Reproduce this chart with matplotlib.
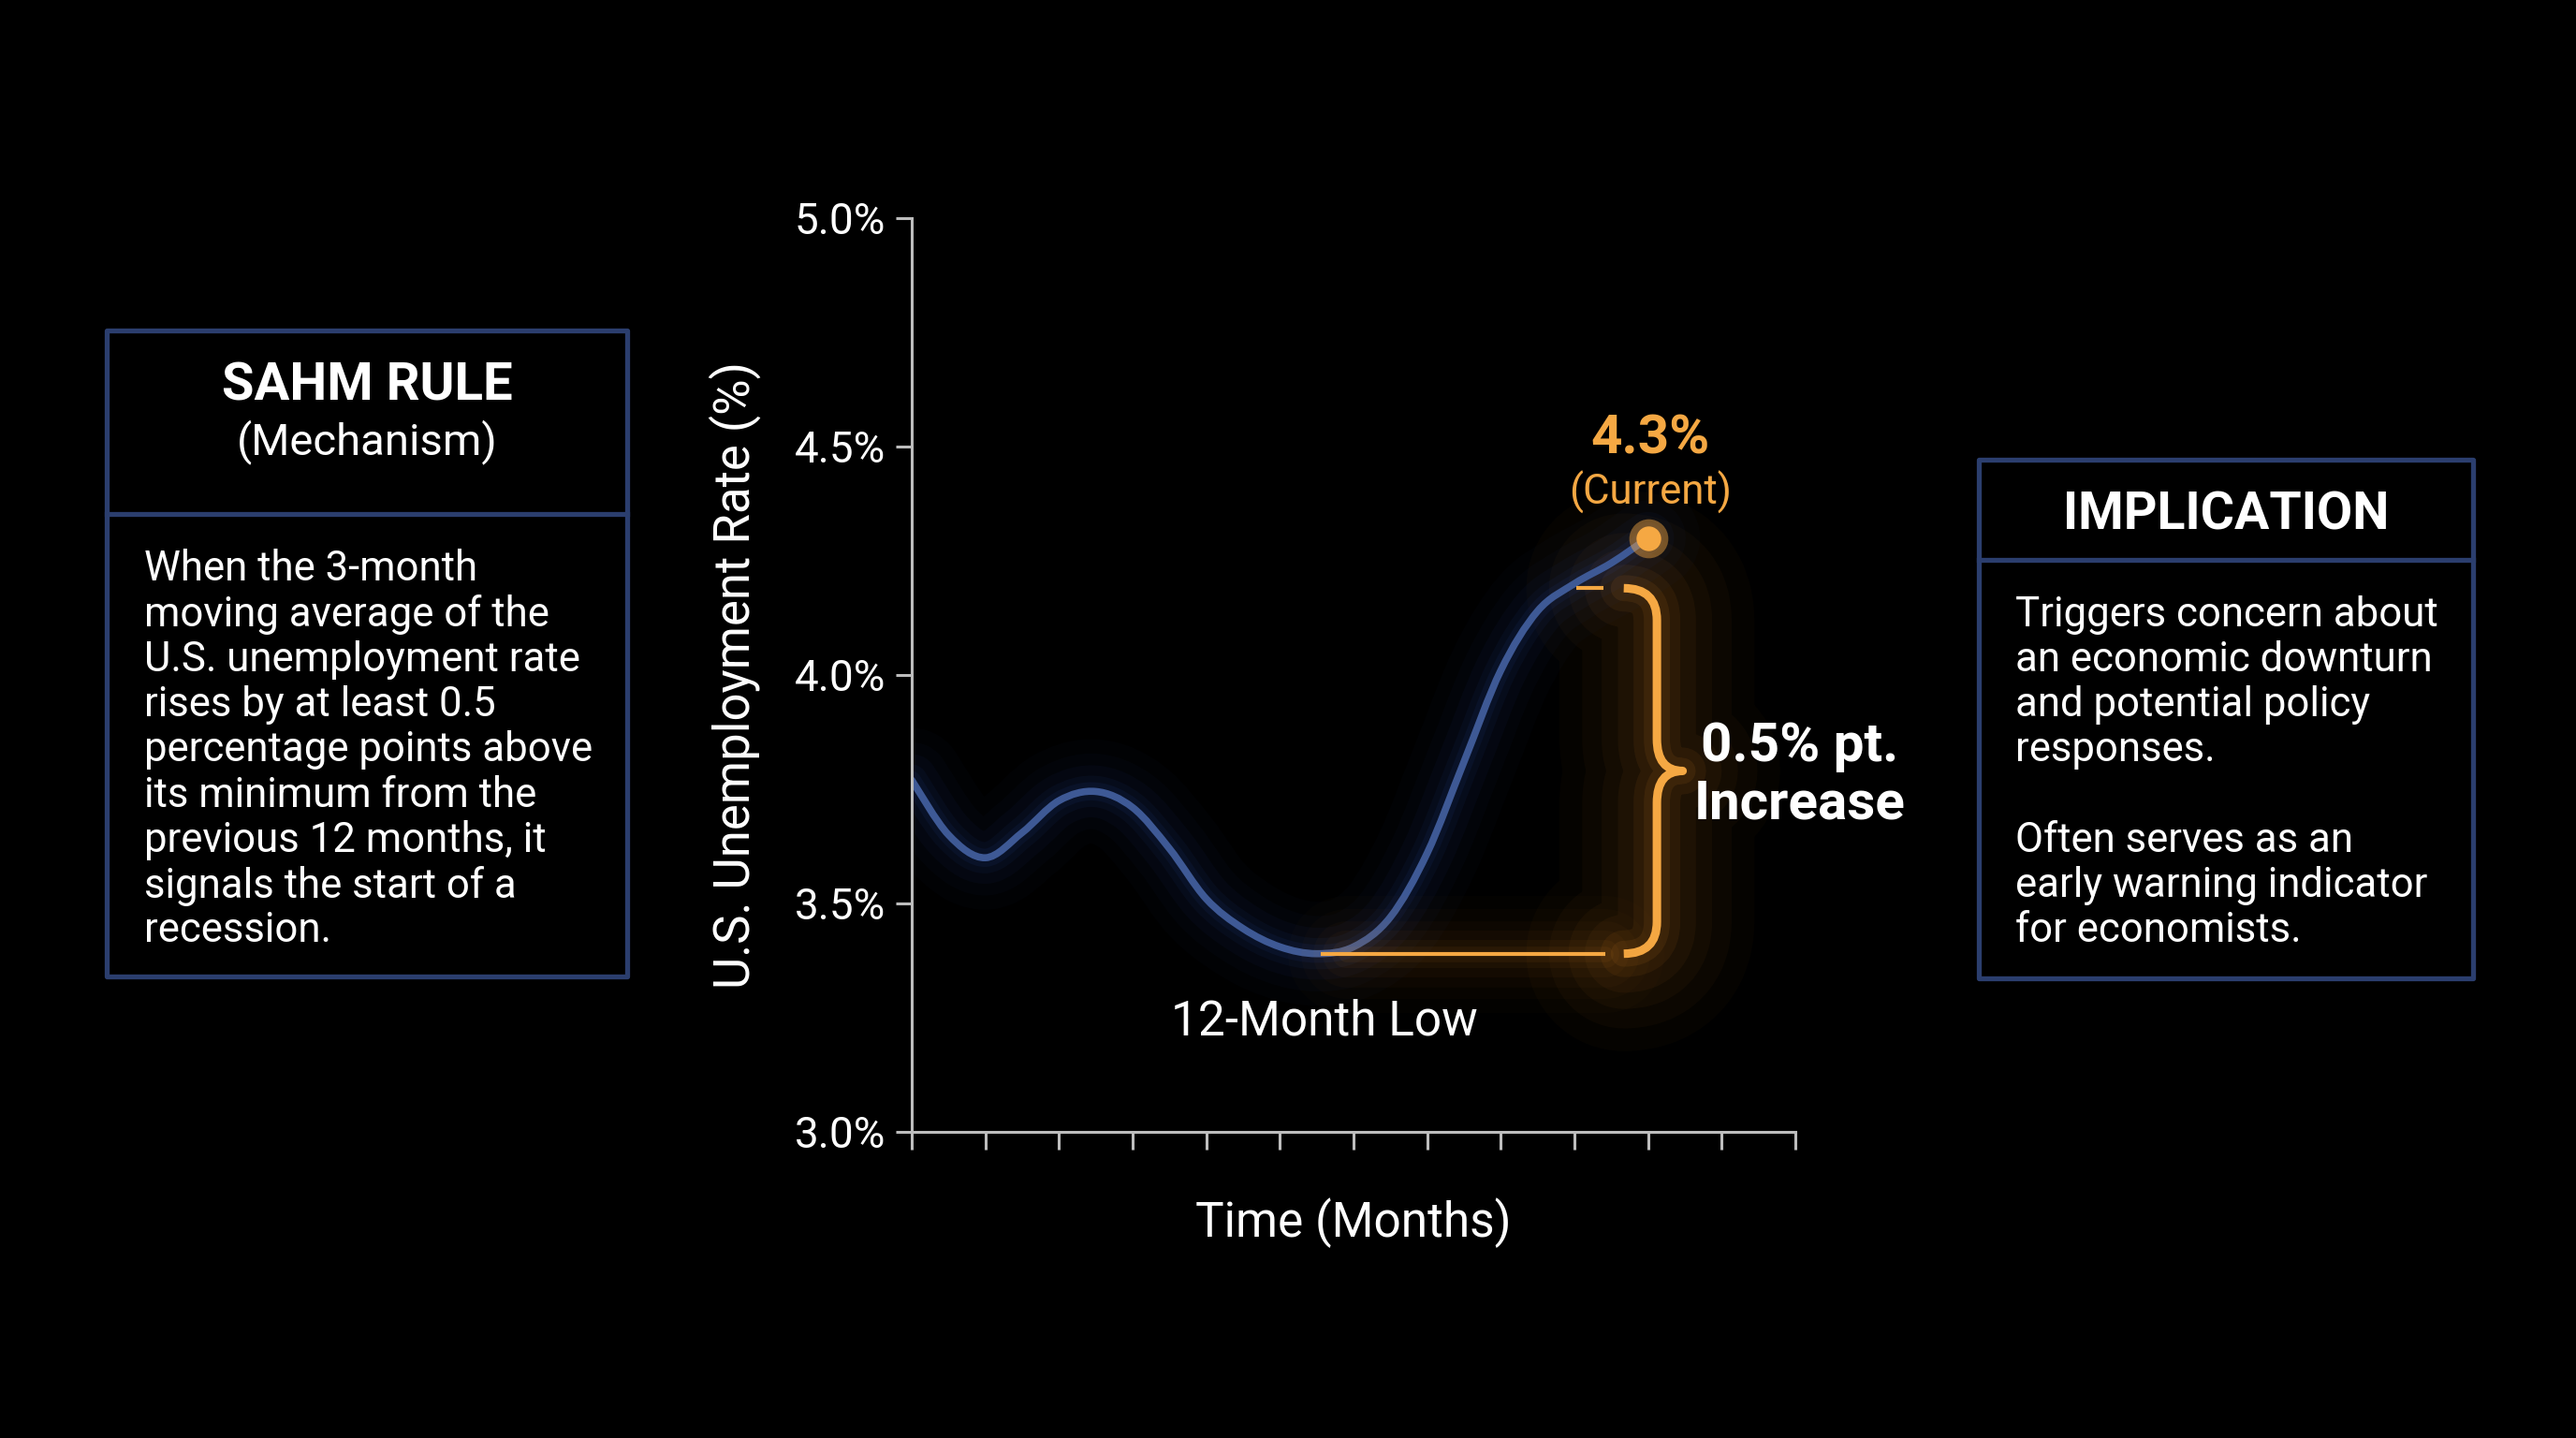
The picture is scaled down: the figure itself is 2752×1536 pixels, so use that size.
import matplotlib.pyplot as plt
from matplotlib.patches import Rectangle, PathPatch
from matplotlib.path import Path
from matplotlib.lines import Line2D

plt.rcParams['font.family'] = ['Roboto', 'DejaVu Sans']

# unemployment rate, every half month
months = [0, 0.5, 1, 1.5, 2, 2.5, 3, 3.5, 4, 4.5, 5, 5.5, 6, 6.5, 7, 7.5, 8, 8.5, 9, 9.5, 10]
rate = [3.77, 3.65, 3.60, 3.655, 3.725, 3.745, 3.71, 3.62, 3.51, 3.445, 3.405, 3.39,
        3.405, 3.47, 3.61, 3.81, 4.01, 4.14, 4.20, 4.245, 4.30]
yticks = [3.0, 3.5, 4.0, 4.5, 5.0]
ytick_labels = ['3.0%', '3.5%', '4.0%', '4.5%', '5.0%']
xticks = list(range(13))
brace_top = 4.19
current_label = '4.3%'

left_title = 'SAHM RULE'
left_sub = '(Mechanism)'
left_body = ['When the 3-month', 'moving average of the', 'U.S. unemployment rate',
             'rises by at least 0.5', 'percentage points above', 'its minimum from the',
             'previous 12 months, it', 'signals the start of a', 'recession.']
right_title = 'IMPLICATION'
right_body = ['Triggers concern about', 'an economic downturn', 'and potential policy',
              'responses.', '', 'Often serves as an', 'early warning indicator',
              'for economists.']

BLUE = '#3e5995'
ORANGE = '#f5a843'
BOX = '#2b3e6e'
AXC = '#bdbdbd'
W, H = 2752, 1536


def fx(px):
    return px / W


def fy(px):
    return 1 - px / H


def smooth_path(xs, ys):
    # bezier path through the points (catmull-rom handles)
    pts = list(zip(xs, ys))
    verts = [pts[0]]
    codes = [Path.MOVETO]
    n = len(pts)
    for i in range(n - 1):
        p0 = pts[max(i - 1, 0)]
        p1 = pts[i]
        p2 = pts[i + 1]
        p3 = pts[min(i + 2, n - 1)]
        c1 = (p1[0] + (p2[0] - p0[0]) / 6, p1[1] + (p2[1] - p0[1]) / 6)
        c2 = (p2[0] - (p3[0] - p1[0]) / 6, p2[1] - (p3[1] - p1[1]) / 6)
        verts += [c1, c2, p2]
        codes += [Path.CURVE4] * 3
    return Path(verts, codes)


fig = plt.figure(figsize=(W / 100, H / 100), dpi=100, facecolor='black')
ax = fig.add_axes([fx(974), fy(1209), fx(1918) - fx(974), fy(233) - fy(1209)])
ax.set_facecolor('black')

curve = smooth_path(months, rate)

low = min(rate)
i_low = rate.index(low)
x_low = months[i_low]
x_end, y_end = months[-1], rate[-1]

# brace geometry (months / percent)
x_hook, x_spine, x_tip = 9.67, 10.12, 10.47
y_mid = (low + brace_top) / 2
r = 0.07
verts = [(x_hook, brace_top), (x_spine, brace_top), (x_spine, brace_top - r),
         (x_spine, y_mid + r), (x_spine, y_mid), (x_tip, y_mid),
         (x_spine, y_mid), (x_spine, y_mid - r),
         (x_spine, low + r), (x_spine, low), (x_hook, low)]
codes = [Path.MOVETO, Path.CURVE3, Path.CURVE3, Path.LINETO, Path.CURVE3, Path.CURVE3,
         Path.CURVE3, Path.CURVE3, Path.LINETO, Path.CURVE3, Path.CURVE3]
brace = Path(verts, codes)

# orange haze behind the brace and the low line
for lw, a in [(150, 0.025), (115, 0.03), (85, 0.04), (60, 0.05), (36, 0.07), (20, 0.09)]:
    ax.add_patch(PathPatch(brace, fill=False, ec='#e8902a', lw=lw, alpha=a,
                           capstyle='round', joinstyle='round'))
    ax.plot([x_low + 0.4, x_hook - 0.25], [low, low], color='#e8902a', lw=lw * 0.6,
            alpha=a * 0.7, solid_capstyle='round')

# blue line with glow
for lw, a in [(80, 0.03), (58, 0.04), (40, 0.055), (24, 0.08), (14, 0.1)]:
    ax.add_patch(PathPatch(curve, fill=False, ec='#28479c', lw=lw, alpha=a,
                           capstyle='round', joinstyle='round'))
ax.add_patch(PathPatch(curve, fill=False, ec=BLUE, lw=5.5, capstyle='round',
                       joinstyle='round'))

ax.add_patch(PathPatch(brace, fill=False, ec=ORANGE, lw=6.5, capstyle='butt',
                       joinstyle='round'))
ax.plot([x_low + 0.05, x_hook - 0.25], [low, low], color=ORANGE, lw=3, solid_capstyle='butt')
ax.plot([x_hook - 0.65, x_hook - 0.27], [brace_top, brace_top], color=ORANGE, lw=3,
        solid_capstyle='butt')

# current point
ax.plot([x_end], [y_end], 'o', ms=30, color=ORANGE, alpha=0.45, mec='none')
ax.plot([x_end], [y_end], 'o', ms=19, color=ORANGE, mec='none')

ax.annotate(current_label, (x_end, y_end), xytext=(2, 76), textcoords='offset points',
            ha='center', va='center', color=ORANGE, fontsize=42, fontweight='bold')
ax.annotate('(Current)', (x_end, y_end), xytext=(2, 35), textcoords='offset points',
            ha='center', va='center', color=ORANGE, fontsize=31.5)
ax.text(12.06, y_mid - 0.01, '0.5% pt.\nIncrease', ha='center', va='center', color='white',
        fontsize=42, fontweight='bold', linespacing=1.15)
ax.text(x_low + 0.1, low - 0.15, '12-Month Low', ha='center', va='center',
        color='white', fontsize=37)

# axes
ax.set_xlim(0, 12)
ax.set_ylim(3.0, 5.0)
ax.set_xticks(xticks)
ax.set_xticklabels([])
ax.set_yticks(yticks)
ax.set_yticklabels(ytick_labels)
for s in ['top', 'right']:
    ax.spines[s].set_visible(False)
for s in ['left', 'bottom']:
    ax.spines[s].set_color(AXC)
    ax.spines[s].set_linewidth(2.2)
ax.tick_params(axis='x', length=14, width=2.2, color=AXC, direction='out')
ax.tick_params(axis='y', length=12, width=2.2, color=AXC, direction='out',
               labelsize=33, labelcolor='white', pad=8)
ax.set_ylabel('U.S. Unemployment Rate (%)', color='white', fontsize=38, va='center')
ax.yaxis.set_label_coords(-0.2, 0.5)
ax.set_xlabel('Time (Months)', color='white', fontsize=37, va='center')
ax.xaxis.set_label_coords(0.5, -0.1)

# side boxes
def box(x0, x1, y0, y1, ydiv):
    fig.patches.append(Rectangle((fx(x0), fy(y1)), fx(x1) - fx(x0), fy(y0) - fy(y1),
                                 transform=fig.transFigure, fill=False, ec=BOX, lw=3.8,
                                 joinstyle='round'))
    fig.lines.append(Line2D([fx(x0), fx(x1)], [fy(ydiv), fy(ydiv)],
                            transform=fig.transFigure, color=BOX, lw=3.8))


box(114, 670, 353, 1043, 549)
fig.text(fx(392), fy(412), left_title, ha='center', va='center', color='white',
         fontsize=40.5, fontweight='bold')
fig.text(fx(392), fy(472), left_sub, ha='center', va='center', color='white', fontsize=34)
for i, line in enumerate(left_body):
    fig.text(fx(154), fy(608 + i * 48.3), line, ha='left', va='center', color='white',
             fontsize=31.5)

box(2114, 2642, 491, 1045, 598)
fig.text(fx(2378), fy(551), right_title, ha='center', va='center', color='white',
         fontsize=40, fontweight='bold')
for i, line in enumerate(right_body):
    fig.text(fx(2153), fy(657 + i * 48.1), line, ha='left', va='center', color='white',
             fontsize=31.5)

fig.savefig('out.png', dpi=100, facecolor='black')
